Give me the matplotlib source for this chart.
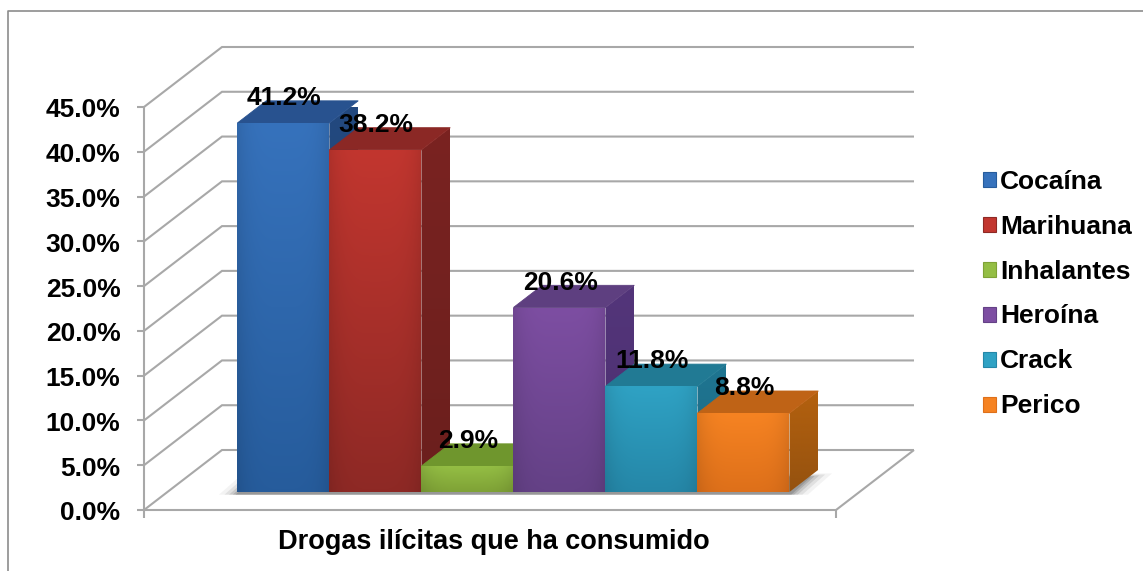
import numpy as np
import matplotlib
matplotlib.use("Agg")
import matplotlib.pyplot as plt
from matplotlib.colors import to_rgb
from matplotlib.lines import Line2D
from matplotlib.patches import Patch, Polygon

categories = ["Cocaína", "Marihuana", "Inhalantes", "Heroína", "Crack", "Perico"]
values = [41.2, 38.2, 2.9, 20.6, 11.8, 8.8]
value_labels = ["41.2%", "38.2%", "2.9%", "20.6%", "11.8%", "8.8%"]
y_ticks = [0, 5, 10, 15, 20, 25, 30, 35, 40, 45]
y_tick_labels = ["0.0%", "5.0%", "10.0%", "15.0%", "20.0%", "25.0%", "30.0%", "35.0%", "40.0%", "45.0%"]
axis_title = "Drogas ilícitas que ha consumido"

# front-top, front-bottom, side-top, side-bottom, top face
palette = [
    ("#3672BC", "#265C9C", "#23497F", "#1E4273", "#28528F"),
    ("#C2362F", "#8E2925", "#7A2321", "#6B1F1D", "#8B2825"),
    ("#94BE44", "#7FA236", "#6F962D", "#6F962D", "#6F962D"),
    ("#7D4EA2", "#644186", "#53357A", "#4C3070", "#5E3F80"),
    ("#2FA2C4", "#2587A8", "#1F7591", "#1C6A85", "#217A94"),
    ("#F68322", "#DE701A", "#B4610F", "#95520F", "#BF6316"),
]

W, H = 1143, 571
GRID = "#A8A8A8"
plt.rcParams["font.family"] = ["Liberation Sans", "DejaVu Sans"]
plt.rcParams["font.weight"] = "bold"
FS = 19.0

fig = plt.figure(figsize=(W / 100, H / 100), dpi=100, facecolor="white")
# plot box in pixels: left 144, right 836, baseline 510, 45 % at 107
ax = fig.add_axes([144 / W, 1 - 510 / H, 692 / W, 403 / H])
ax.set_xlim(-1.26, 6.26)
ax.set_ylim(0, 45)
ax.axis("off")
ax.set_aspect("auto")

DX = 78 * 7.52 / 692      # full floor depth, horizontal part, in category units
DY = 60 * 45 / 403        # full floor depth, vertical part, in percent units
BAR_D0, BAR_D1 = 0.30, 0.67


def proj(x, y, d=0.0):
    return x + d * DX, y + d * DY


def line(points, lw=1.5, color=GRID, z=1):
    xs, ys = zip(*points)
    ax.add_line(Line2D(xs, ys, color=color, lw=lw, zorder=z, clip_on=False,
                       solid_capstyle="butt", solid_joinstyle="miter"))


def shaded_face(corners, top, bottom, z, edge_dim=0.10):
    """Fill a polygon with a top-to-bottom gradient, dimmed toward left/right."""
    xs = [c[0] for c in corners]
    ys = [c[1] for c in corners]
    t = np.linspace(0, 1, 64)[:, None, None]
    u = np.linspace(-1, 1, 64)[None, :, None]
    img = (1 - t) * np.array(to_rgb(top)) + t * np.array(to_rgb(bottom))
    img = np.clip(img * (1 - edge_dim * u ** 4), 0, 1)
    im = ax.imshow(img, extent=(min(xs), max(xs), min(ys), max(ys)), origin="upper",
                   aspect="auto", zorder=z, interpolation="bilinear")
    im.set_clip_path(Polygon(corners, closed=True, transform=ax.transData))


# walls and floor
x0, x1 = ax.get_xlim()
for v in y_ticks:
    line([proj(x0, v), proj(x0, v, 1), proj(x1, v, 1)])
    line([(x0, v), (x0 - 7 * 7.52 / 692, v)])
line([proj(x0, 0), proj(x1, 0), proj(x1, 0, 1)])
line([proj(x0, 0), proj(x0, 45)])
for xt in (x0, x1):
    line([(xt, 0), (xt, -0.9)])

# soft floor shadow behind the bars
for grow, alpha in zip((0.20, 0.14, 0.09, 0.05, 0.02), (0.06, 0.10, 0.14, 0.18, 0.22)):
    left, right = -0.5 - grow, 5.5 + grow
    footprint = [proj(left, -0.3, BAR_D0), proj(right, -0.3, BAR_D0),
                 proj(right, 0, BAR_D1 - 0.12 + grow * 0.3), proj(left, 0, BAR_D1 - 0.12 + grow * 0.3)]
    ax.add_patch(Polygon(footprint, closed=True, fc="#404040", ec="none", alpha=alpha,
                         zorder=2, clip_on=False))

# bars, drawn left to right so each front hides its neighbour's side
for i, v in enumerate(values):
    ft, fb, st, sb, tp = palette[i]
    l, r = i - 0.5, i + 0.5
    z = 3 + i * 0.1
    side = [proj(r, 0, BAR_D0), proj(r, 0, BAR_D1), proj(r, v, BAR_D1), proj(r, v, BAR_D0)]
    top = [proj(l, v, BAR_D0), proj(r, v, BAR_D0), proj(r, v, BAR_D1), proj(l, v, BAR_D1)]
    front = [proj(l, 0, BAR_D0), proj(r, 0, BAR_D0), proj(r, v, BAR_D0), proj(l, v, BAR_D0)]
    shaded_face(side, st, sb, z, edge_dim=0)
    ax.add_patch(Polygon(top, closed=True, fc=tp, ec=tp, lw=0.6, zorder=z + 0.01, clip_on=False))
    shaded_face(front, ft, fb, z + 0.02)

# data labels
for i, (v, txt) in enumerate(zip(values, value_labels)):
    ax.annotate(txt, xy=proj(i, v, BAR_D0), xytext=(0.5, 18), textcoords="offset points",
                ha="center", va="center", fontsize=FS, fontweight="bold", color="black",
                zorder=10, annotation_clip=False)

# value-axis labels and category-axis title
for v, txt in zip(y_ticks, y_tick_labels):
    ax.annotate(txt, xy=(x0, v), xytext=(-17, -2.5), textcoords="offset points", ha="right",
                va="center", fontsize=FS, fontweight="bold", annotation_clip=False)
fig.text(493.5 / W, 1 - 542 / H, axis_title, ha="center", va="center", fontsize=19.5, fontweight="bold")

# legend
handles = [Patch(facecolor=p[0], edgecolor=p[1], lw=0.8, label=c) for p, c in zip(palette, categories)]
fig.legend(handles=handles, loc="center left", bbox_to_anchor=(978 / W, 1 - 294 / H),
           frameon=False, prop={"size": FS, "weight": "bold"}, handlelength=0.5, handleheight=0.5,
           handletextpad=0.13, labelspacing=0.795, borderpad=0.2, borderaxespad=0)

# chart-area border (open on the right and at the bottom)
border = Line2D([8 / W, 8 / W, 1 + 1 / W], [0, 1 - 11 / H, 1 - 11 / H], color="#8C8C8C", lw=1.2,
                transform=fig.transFigure)
fig.add_artist(border)

fig.savefig("out.png", dpi=100, facecolor="white")
